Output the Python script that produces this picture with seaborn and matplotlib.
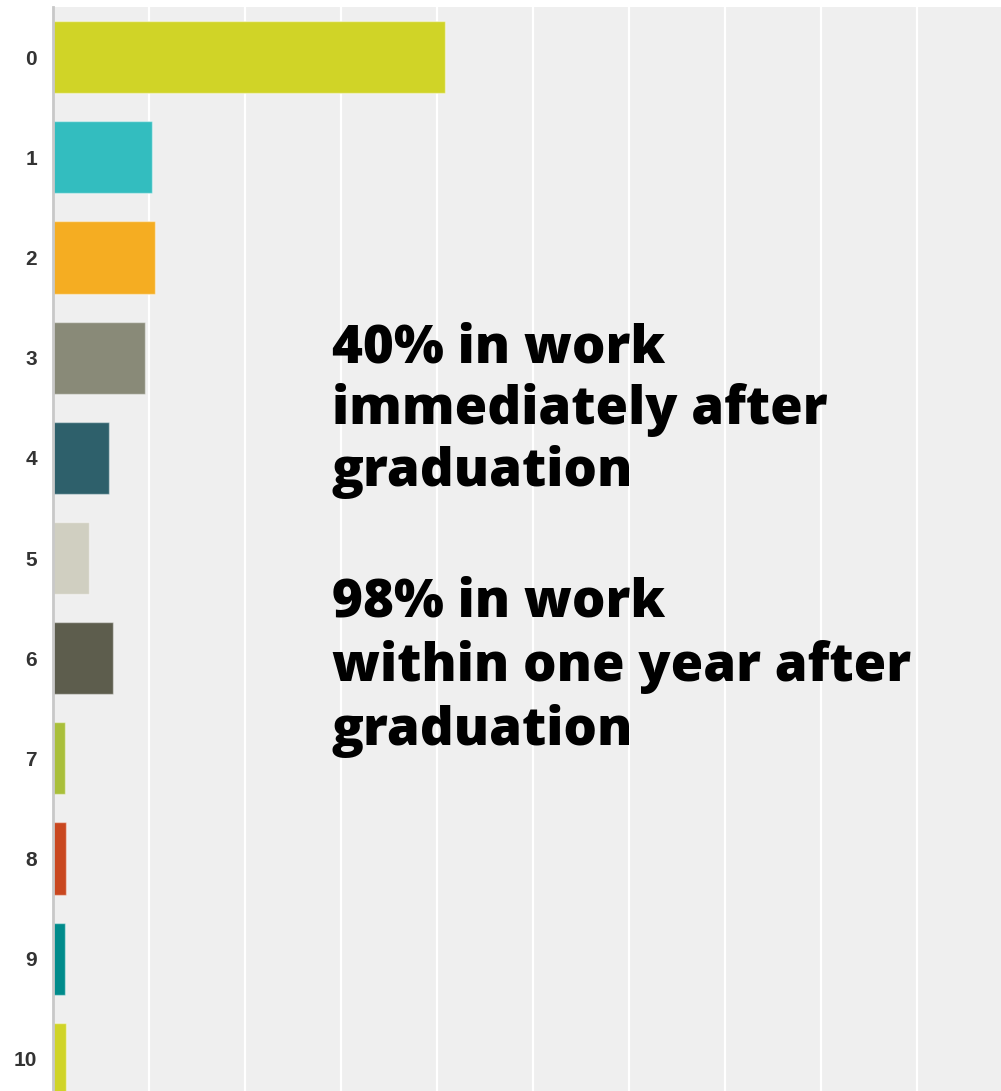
import matplotlib
matplotlib.use("Agg")
import matplotlib.pyplot as plt
import seaborn as sns
import pandas as pd

# Months until first job after graduation, share of graduates (%)
months = ["0", "1", "2", "3", "4", "5", "6", "7", "8", "9", "10"]
share = [40.8, 10.3, 10.6, 9.6, 5.8, 3.7, 6.2, 1.2, 1.4, 1.2, 1.4]
bar_colors = ["#d0d427", "#33bdbf", "#f5ad22", "#898a78", "#2e606b",
              "#d0cfc1", "#5d5d4d", "#a9bf3a", "#c9471f", "#008b8b", "#d0d427"]

headline_1 = "40% in work\nimmediately after\ngraduation"
headline_2 = "98% in work\nwithin one year after\ngraduation"

df = pd.DataFrame({"month": months, "share": share})

sns.set_theme(style="white")
W, H = 1001, 1091
fig = plt.figure(figsize=(W / 100, H / 100), dpi=100)
fig.patch.set_facecolor("white")

# Axes extends beyond the right and bottom figure edges
left_px, right_px, top_px, bottom_px = 53, 1013, 7, 1109
ax = fig.add_axes([left_px / W, 1 - bottom_px / H,
                   (right_px - left_px) / W, (bottom_px - top_px) / H])
ax.set_facecolor("#efefef")

sns.barplot(data=df, x="share", y="month", hue="month", palette=bar_colors,
            saturation=1, order=months, legend=False, width=0.72, orient="h",
            edgecolor=(1, 1, 1, 0.45), linewidth=1.0, ax=ax, zorder=3)

ax.set_xlim(0, 100)
ax.set_ylim(10.5, -0.5)
ax.set_xticks(range(0, 101, 10))
ax.set_xticklabels([])
ax.grid(axis="x", color="white", linewidth=1.6, zorder=0)
ax.grid(axis="y", visible=False)
ax.set_axisbelow(True)
for s in ["top", "right", "bottom"]:
    ax.spines[s].set_visible(False)
ax.spines["left"].set_color("#c8c8c8")
ax.spines["left"].set_linewidth(2)
ax.spines["left"].set_zorder(4)
ax.set_xlabel("")
ax.set_ylabel("")
ax.tick_params(axis="y", length=0, pad=11.5)
ax.tick_params(axis="x", length=0)
for lbl in ax.get_yticklabels():
    lbl.set_fontfamily("Liberation Sans")
    lbl.set_fontweight("bold")
    lbl.set_fontsize(15)
    lbl.set_color("#333333")

text_kw = dict(fontsize=38, fontweight=800, family=["Open Sans", "DejaVu Sans"],
               color="black", ha="left", va="baseline")
# va="baseline" on multi-line text anchors the last line's baseline
fig.text(332 / W, 1 - 486 / H, headline_1, linespacing=1.19, **text_kw)
fig.text(332 / W, 1 - 745 / H, headline_2, linespacing=1.25, **text_kw)

fig.savefig("out.png", dpi=100, facecolor="white")
